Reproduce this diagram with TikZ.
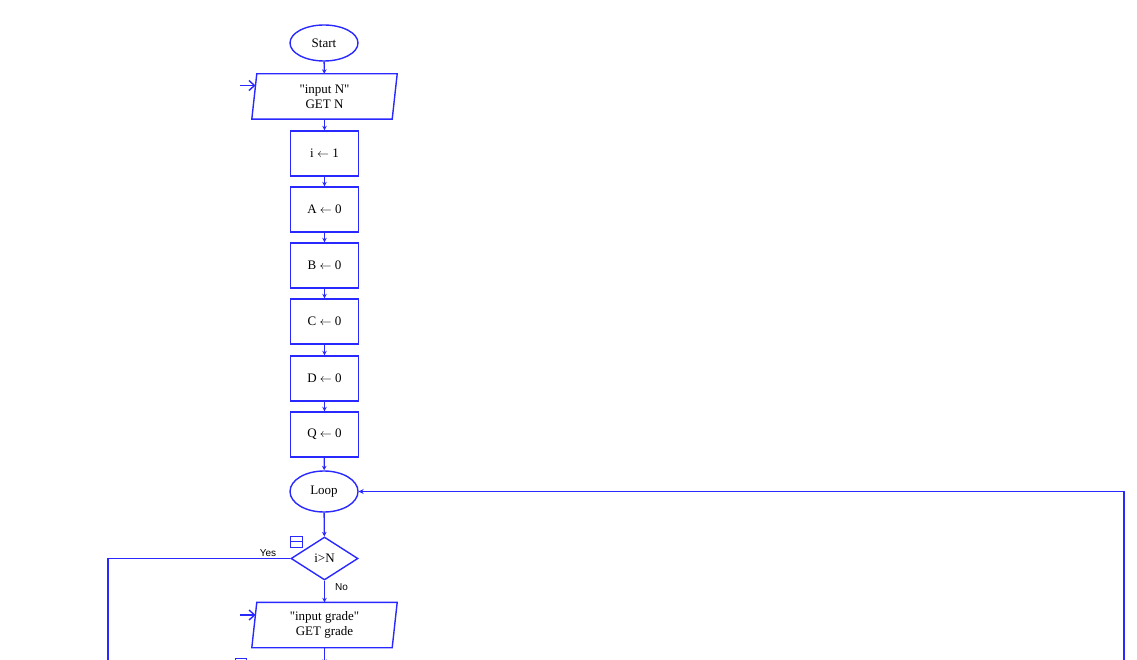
\documentclass[tikz,border=0pt]{standalone}
\usepackage{fontspec}
\setmainfont{Liberation Serif}
\newfontfamily\labfont{Liberation Sans}
\usetikzlibrary{shapes.geometric,arrows.meta}
\definecolor{fcblue}{RGB}{40,40,255}
\tikzset{
  fcline/.style={draw=fcblue, line width=1.4pt},
  flow/.style={fcline, -{Stealth[length=4.5pt,width=4.5pt]}},
  entry/.style={fcline, -{Straight Barb[length=5.5pt,width=10pt]}},
  txt/.style={font=\fontsize{13}{15}\selectfont, align=center, text=black},
  oval/.style={ellipse, fcline, txt, minimum width=68pt, minimum height=36pt, inner sep=0pt},
  procbox/.style={rectangle, fcline, txt, minimum width=68pt, minimum height=45pt, inner sep=0pt},
  iobody/.style={rectangle, txt, minimum width=140pt, minimum height=45pt, inner sep=0pt},
  decide/.style={diamond, fcline, txt, minimum width=67pt, minimum height=43pt, inner sep=0pt},
  lab/.style={font=\labfont\fontsize{10}{11}\selectfont, text=black, inner sep=0pt}
}
\begin{document}
\begin{tikzpicture}[x=1pt,y=-1pt]
\useasboundingbox (0,0) rectangle (1137,660);
\clip (0,0) rectangle (1137,660);

\node[oval] (start) at (324,43) {Start};

\node[iobody] (inN) at (324.5,96.5) {\textquotedbl input N\textquotedbl\\GET N};
\draw[fcline] ([xshift=2.5pt]inN.north west) -- ([xshift=2.5pt]inN.north east)
  -- ([xshift=-2.5pt]inN.south east) -- ([xshift=-2.5pt]inN.south west) -- cycle;
\coordinate (inNin) at ([xshift=1.2pt,yshift=11pt]inN.west);
\coordinate (entN) at (240,85.5);

\node[procbox] (i1) at (324.5,153.5) {i $\leftarrow$ 1};
\node[procbox] (a0) at (324.5,209.5) {A $\leftarrow$ 0};
\node[procbox] (b0) at (324.5,265.5) {B $\leftarrow$ 0};
\node[procbox] (c0) at (324.5,321.5) {C $\leftarrow$ 0};
\node[procbox] (d0) at (324.5,378.5) {D $\leftarrow$ 0};
\node[procbox] (q0) at (324.5,434.5) {Q $\leftarrow$ 0};

\node[oval, minimum height=41pt] (loop) at (324,491.5) {Loop};

\node[decide] (dia) at (324.5,558.5) {i>N};

\node[iobody] (inG) at (324.5,625) {\textquotedbl input grade\textquotedbl\\GET grade};
\draw[fcline] ([xshift=2.5pt]inG.north west) -- ([xshift=2.5pt]inG.north east)
  -- ([xshift=-2.5pt]inG.south east) -- ([xshift=-2.5pt]inG.south west) -- cycle;
\coordinate (inGin) at ([xshift=1.3pt,yshift=10pt]inG.west);
\coordinate (entG) at (240,615);

% connectors
\draw[flow] (start) -- (inN);
\draw[flow] (inN) -- (i1);
\draw[flow] (i1) -- (a0);
\draw[flow] (a0) -- (b0);
\draw[flow] (b0) -- (c0);
\draw[flow] (c0) -- (d0);
\draw[flow] (d0) -- (q0);
\draw[flow] (q0) -- (loop);
\draw[flow] (loop) -- (dia);
\draw[flow] (dia) -- (inG) node[lab, pos=0.3, anchor=west, xshift=10pt] {No};
\coordinate (gout) at (324.5,664);
\draw[flow] (inG) -- (gout);

\draw[entry] (entN) -- (inNin);
\draw[entry] (entG) -- (inGin);

% Yes branch
\coordinate (yesc) at (108,558.5);
\coordinate (yesd) at (108,664);
\draw[fcline] (dia.west) -- (yesc) -- (yesd);
\node[lab, anchor=south] (yeslab) at (268,557) {Yes};

% return to loop
\coordinate (rb) at (1124,664);
\coordinate (rc) at (1124,491.5);
\draw[fcline, -{Stealth[length=5pt,width=5pt]}] (rb) -- (rc) -- (loop.east);

% collapse icons
\draw[fcline, line width=1pt] (290,536) rectangle (302,547);
\draw[fcline, line width=1pt] (290,541.5) -- (302,541.5);
\draw[fcline, line width=1pt] (235,658.5) rectangle (246,670);
\end{tikzpicture}
\end{document}
